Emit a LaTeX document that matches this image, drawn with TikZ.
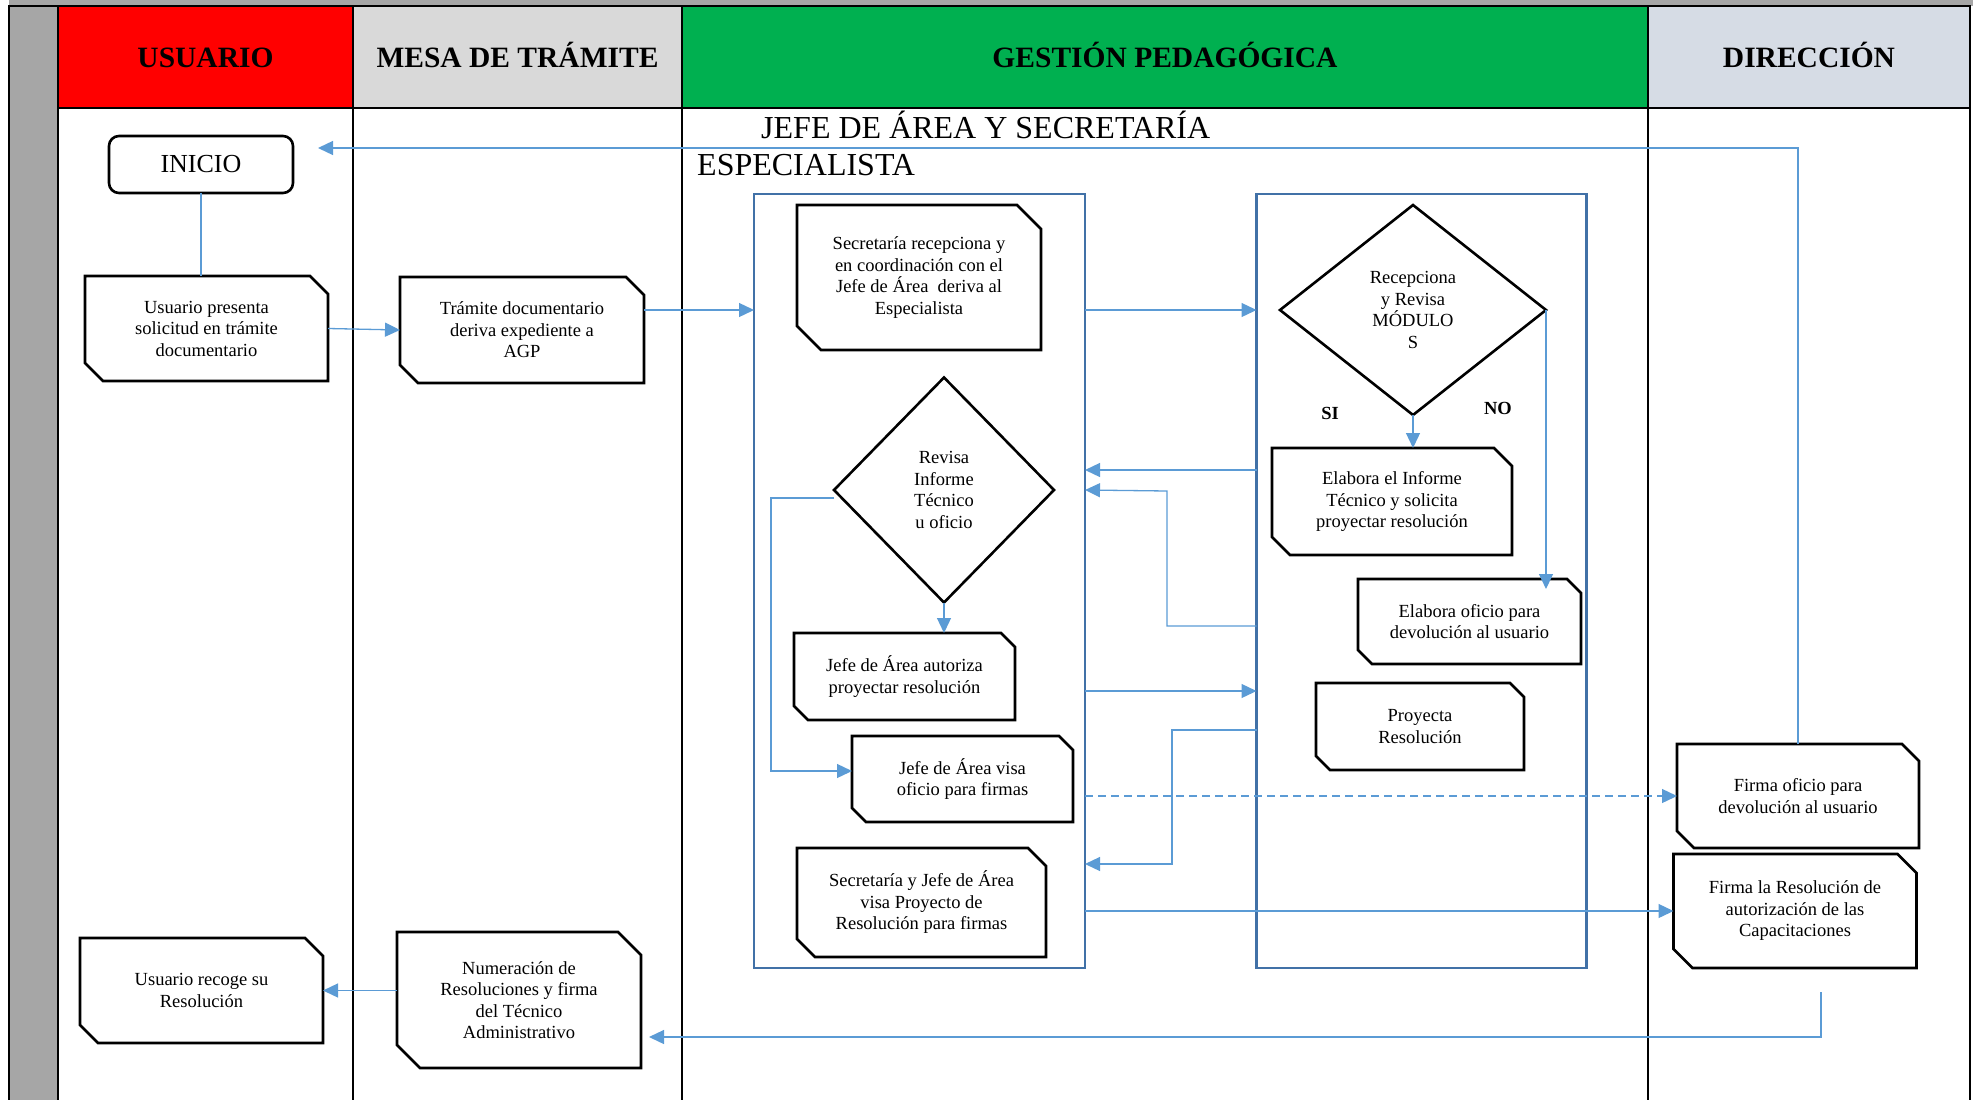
\documentclass[tikz,border=0pt]{standalone}
\usepackage{fontspec}
\setmainfont{Liberation Serif}
\usetikzlibrary{
  calc,
  positioning,
  arrows.meta,
  shapes.geometric}
\definecolor{rojo}{HTML}{FF0000}
\definecolor{grismesa}{HTML}{D9D9D9}
\definecolor{verde}{HTML}{00B050}
\definecolor{grisdir}{HTML}{D6DCE5}
\definecolor{franja}{HTML}{A6A6A6}
\definecolor{marco}{RGB}{65,113,167}
\definecolor{flecha}{HTML}{5B9BD5}
\newcommand{\textopaso}{\fontsize{18.5}{21.5}\selectfont}

\begin{document}
\begin{tikzpicture}[
  x=1pt, y=-1pt,
  tabla/.style={line width=2.2pt},
  titulo/.style={anchor=base, inner sep=0pt, font=\fontsize{29.5}{34}\selectfont\bfseries},
  subtitulo/.style={anchor=base west, inner sep=0pt, font=\fontsize{32}{38}\selectfont},
  caja/.style={inner sep=0pt, outer sep=0pt, align=center, font=\textopaso},
  borde/.style={line width=2.6pt, line join=miter},
  rombo/.style={diamond, draw, line width=2.6pt, inner sep=0pt, outer sep=0pt,
    align=center, font=\textopaso},
  etiqueta/.style={inner sep=0pt, font=\textopaso\bfseries},
  marcobox/.style={draw=marco, line width=2.5pt, inner sep=0pt, outer sep=0pt},
  flujo/.style={draw=flecha, line width=1.3pt, -{Triangle[length=15pt,width=14pt]}},
  enlace/.style={draw=flecha, line width=1.3pt}
]%
  \useasboundingbox (0,0) rectangle (1973,1100);

  % Background and lanes
  \fill[franja] (9,0) rectangle (1973,6);
  \fill[franja] (9,6) rectangle (58,1100);
  \fill[rojo] (58,6) rectangle (353,108);
  \fill[grismesa] (353,6) rectangle (682,108);
  \fill[verde] (682,6) rectangle (1648,108);
  \fill[grisdir] (1648,6) rectangle (1970,108);

  % Table lines
  \draw[tabla] (9,1100) -- (9,6) -- (1970,6) -- (1970,1100);
  \draw[tabla] (58,108) -- (1970,108);
  \foreach \x in {58,353,682,1648}
    \draw[tabla] (\x,6) -- (\x,1100);

  % Lane titles
  \node[titulo] (tusuario) at (205.5,67) {USUARIO};
  \node[titulo] (tmesa) at (517.5,67) {MESA DE TRÁMITE};
  \node[titulo] (tgestion) at (1165,67) {GESTIÓN PEDAGÓGICA};
  \node[titulo] (tdireccion) at (1809,67) {DIRECCIÓN};
  \node[subtitulo] (jefe) at (761,138) {JEFE DE ÁREA Y SECRETARÍA};
  \node[subtitulo] (especialista) at (697,175) {ESPECIALISTA};

  % Frames inside Gestión pedagógica
  \node[marcobox, minimum width=331pt, minimum height=774pt] (izq) at (919.5,581) {};
  \node[marcobox, minimum width=330pt, minimum height=774pt] (der) at (1421.5,581) {};

  % Usuario
  \node[caja, draw, line width=2.6pt, rounded corners=10pt, minimum width=184pt,
    minimum height=57pt, font=\fontsize{26}{30}\selectfont] (inicio) at (201,164.5) {INICIO};
  \node[caja, minimum width=243pt, minimum height=105pt] (usuario) at (206.5,328.5)
    {Usuario presenta\\solicitud en trámite\\documentario};
  \node[caja, minimum width=243pt, minimum height=105pt] (recoge) at (201.5,990.5)
    {Usuario recoge su\\Resolución};

  % Mesa de trámite
  \node[caja, minimum width=244pt, minimum height=106pt] (tramite) at (522,330)
    {Trámite documentario\\deriva expediente a\\AGP};
  \node[caja, minimum width=244pt, minimum height=136pt] (numeracion) at (519,1000)
    {Numeración de\\Resoluciones y firma\\del Técnico\\Administrativo};

  % Gestión pedagógica, left frame
  \node[caja, minimum width=244pt, minimum height=145pt] (secretaria) at (919,277.5)
    {Secretaría recepciona y\\en coordinación con el\\Jefe de Área\ \ deriva al\\Especialista};
  \node[rombo, minimum width=220pt, minimum height=225pt] (revisa) at (944,490)
    {Revisa\\Informe\\Técnico\\u oficio};
  \node[caja, minimum width=221pt, minimum height=87pt] (autoriza) at (904.5,676.5)
    {Jefe de Área autoriza\\proyectar resolución};
  \node[caja, minimum width=221pt, minimum height=86pt] (visa) at (962.5,779)
    {Jefe de Área visa\\oficio para firmas};
  \node[caja, minimum width=249pt, minimum height=109pt] (secvisa) at (921.5,902.5)
    {Secretaría y Jefe de Área\\visa Proyecto de\\Resolución para firmas};

  % Gestión pedagógica, right frame
  \node[rombo, minimum width=266pt, minimum height=210pt] (recepciona) at (1413,310)
    {Recepciona\\y Revisa\\MÓDULO\\S};
  \node[etiqueta] (si) at (1330,413) {SI};
  \node[etiqueta] (no) at (1498,408) {NO};
  \node[caja, minimum width=240pt, minimum height=107pt] (informe) at (1392,501.5)
    {Elabora el Informe\\Técnico y solicita\\proyectar resolución};
  \node[caja, minimum width=223pt, minimum height=85pt] (oficio) at (1469.5,621.5)
    {Elabora oficio para\\devolución al usuario};
  \node[caja, minimum width=208pt, minimum height=87pt] (proyecta) at (1420,726.5)
    {Proyecta\\Resolución};

  % Dirección
  \node[caja, minimum width=242pt, minimum height=104pt] (firmaoficio) at (1798,796)
    {Firma oficio para\\devolución al usuario};
  \node[caja, minimum width=243pt, minimum height=114pt] (firmares) at (1795,911)
    {Firma la Resolución de\\autorización de las\\Capacitaciones};

  % Chamfered outlines
  \foreach \nodo/\corte in {usuario/18, recoge/18, tramite/18, numeracion/23,
    secretaria/24, autoriza/14, visa/14, secvisa/18, informe/18, oficio/14,
    proyecta/14, firmaoficio/17, firmares/19}
    \draw[borde]
      (\nodo.north west) -- ($(\nodo.north east)+(-\corte,0)$)
      -- ($(\nodo.north east)+(0,\corte)$) -- (\nodo.south east)
      -- ($(\nodo.south west)+(\corte,0)$) -- ($(\nodo.south west)+(0,-\corte)$) -- cycle;

  % Connectors
  \coordinate (retorno) at (318,148);
  \draw[flujo] (firmaoficio.north) |- (retorno);
  \draw[enlace] (inicio.south) -- (inicio.south |- usuario.north);
  \draw[flujo] (usuario.east) -- (tramite.west);
  \draw[flujo] (tramite.east |- recepciona.west) -- (izq.west |- recepciona.west);
  \draw[flujo] (izq.east |- recepciona.west) -- (der.west |- recepciona.west);
  \draw[flujo] (recepciona.south) -- (recepciona.south |- informe.north);
  \draw[flujo] (recepciona.east) -- ([yshift=-10pt]recepciona.east |- oficio.north);
  \draw[flujo] (der.west |- 0,470) -- (izq.east |- 0,470);
  \draw[flujo] (der.west |- 0,626) -| (1167,491) -- (izq.east |- revisa.east);
  \draw[flujo] (izq.east |- 0,691) -- (der.west |- 0,691);
  \draw[flujo] (der.west |- 0,730) -| (1172,864) -- (izq.east |- 0,864);
  \draw[flujo, dash pattern=on 8pt off 5pt] (izq.east |- firmaoficio.west) -- (firmaoficio.west);
  \draw[flujo] (izq.east |- firmares.west) -- (firmares.west);
  \draw[flujo] ($(firmares.south)+(26,24)$) |- ($(numeracion.east)+(8,37)$);
  \draw[flujo] (numeracion.west |- recoge.east) -- (recoge.east);
  \draw[flujo] ([yshift=-8pt]revisa.west) -- ++(-63,0) |- ([yshift=8pt]visa.west);
  \draw[flujo] (revisa.south) -- (revisa.south |- autoriza.north);
\end{tikzpicture}
\end{document}
